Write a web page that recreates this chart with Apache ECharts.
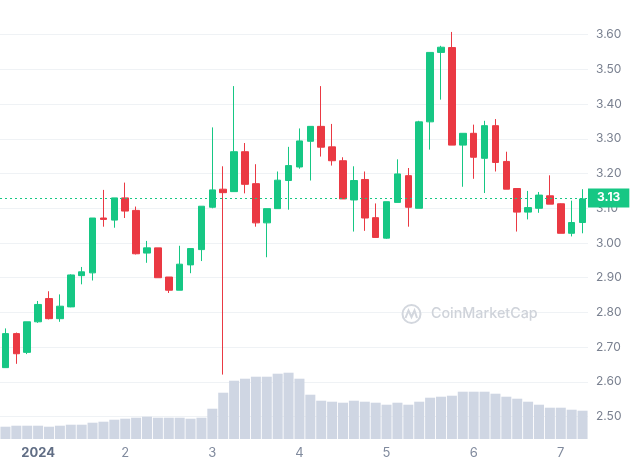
<!DOCTYPE html>
<html>
<head>
<meta charset="utf-8">
<script src="https://cdn.jsdelivr.net/npm/echarts@6/dist/echarts.min.js"></script>
<style>
html,body{margin:0;padding:0;background:#fff;}
#chart{width:630px;height:465px;}
</style>
</head>
<body>
<div id="chart"></div>
<script>
// 3-hour candles, Dec 31 15:00 -> Jan 7 06:00
const categories = [
  'Dec 31 15:00','Dec 31 18:00','Dec 31 21:00',
  'Jan 1 00:00','Jan 1 03:00','Jan 1 06:00','Jan 1 09:00','Jan 1 12:00','Jan 1 15:00','Jan 1 18:00','Jan 1 21:00',
  'Jan 2 00:00','Jan 2 03:00','Jan 2 06:00','Jan 2 09:00','Jan 2 12:00','Jan 2 15:00','Jan 2 18:00','Jan 2 21:00',
  'Jan 3 00:00','Jan 3 03:00','Jan 3 06:00','Jan 3 09:00','Jan 3 12:00','Jan 3 15:00','Jan 3 18:00','Jan 3 21:00',
  'Jan 4 00:00','Jan 4 03:00','Jan 4 06:00','Jan 4 09:00','Jan 4 12:00','Jan 4 15:00','Jan 4 18:00','Jan 4 21:00',
  'Jan 5 00:00','Jan 5 03:00','Jan 5 06:00','Jan 5 09:00','Jan 5 12:00','Jan 5 15:00','Jan 5 18:00','Jan 5 21:00',
  'Jan 6 00:00','Jan 6 03:00','Jan 6 06:00','Jan 6 09:00','Jan 6 12:00','Jan 6 15:00','Jan 6 18:00','Jan 6 21:00',
  'Jan 7 00:00','Jan 7 03:00','Jan 7 06:00'
];
// [open, close, low, high]
const ohlc = [
  [2.641,2.739,2.641,2.754],[2.739,2.681,2.652,2.742],[2.685,2.773,2.680,2.773],
  [2.773,2.823,2.770,2.833],[2.840,2.782,2.780,2.861],[2.782,2.818,2.773,2.852],[2.816,2.908,2.815,2.910],
  [2.906,2.917,2.881,2.931],[2.914,3.072,2.892,3.072],[3.072,3.068,3.047,3.153],[3.066,3.130,3.044,3.130],
  [3.130,3.092,3.072,3.174],[3.094,2.969,2.967,3.105],[2.971,2.986,2.943,3.006],[2.986,2.900,2.900,2.986],
  [2.902,2.864,2.856,2.902],[2.864,2.939,2.864,2.992],[2.937,2.984,2.913,2.984],[2.981,3.106,2.948,3.106],
  [3.103,3.153,3.100,3.333],[3.155,3.145,2.621,3.221],[3.148,3.263,3.148,3.452],[3.263,3.169,3.143,3.288],
  [3.171,3.058,3.047,3.227],[3.058,3.099,2.959,3.099],[3.099,3.181,3.099,3.206],[3.180,3.223,3.096,3.277],
  [3.219,3.294,3.214,3.330],[3.293,3.336,3.180,3.336],[3.336,3.276,3.249,3.452],[3.277,3.237,3.223,3.343],
  [3.237,3.127,3.127,3.247],[3.124,3.180,3.033,3.221],[3.183,3.072,3.035,3.206],[3.073,3.016,3.016,3.114],
  [3.014,3.119,3.012,3.119],[3.117,3.199,3.117,3.241],[3.194,3.103,3.047,3.216],[3.100,3.349,3.100,3.352],
  [3.349,3.549,3.269,3.549],[3.549,3.564,3.413,3.568],[3.563,3.282,3.282,3.608],[3.282,3.316,3.162,3.316],
  [3.316,3.247,3.185,3.341],[3.244,3.338,3.144,3.352],[3.338,3.232,3.206,3.357],[3.235,3.155,3.155,3.263],
  [3.157,3.089,3.033,3.157],[3.089,3.102,3.068,3.150],[3.100,3.138,3.087,3.147],[3.136,3.112,3.112,3.195],
  [3.113,3.028,3.028,3.114],[3.028,3.059,3.019,3.122],[3.059,3.127,3.028,3.155]
];
// relative volume (millions)
const volume = [
  12.3,13.3,13.3,13.3,12.3,13.3,14.3,14.3,16.3,17.3,19.3,20.3,21.3,22.3,21.3,21.3,21.3,20.3,21.3,
  30.3,46.3,58.3,60.3,62.3,62.3,65.3,66.3,60.3,44.3,38.3,37.3,36.3,38.3,37.3,36.3,34.3,36.3,34.3,
  37.3,41.3,42.3,43.3,47.3,47.3,47.3,45.3,42.3,40.3,37.3,34.3,31.3,31.3,29.3,28.3
];
const lastPrice = 3.127;
const tickIndex = [3, 11, 19, 27, 35, 43, 51];
const tickText = ['2024', '2', '3', '4', '5', '6', '7'];

const UP = '#16c784', DOWN = '#ea3943';
const FONT = 'Inter, "Noto Sans", sans-serif';
const gridColors = [];
for (let v = 24; v <= 37; v++) gridColors.push((v === 24 || v === 37) ? 'rgba(0,0,0,0)' : '#eff2f5');

const chart = echarts.init(document.getElementById('chart'), null, {renderer: 'canvas'});
chart.setOption({
  animation: false,
  backgroundColor: '#fff',
  grid: [
    {left: -1, right: 42, top: -10.2, bottom: 13.7},
    {left: -1, right: 42, top: 339, bottom: 26}
  ],
  xAxis: [
    {type: 'category', gridIndex: 0, data: categories, boundaryGap: true,
     axisLine: {show: false}, axisTick: {show: false}, axisLabel: {show: false}, splitLine: {show: false}},
    {type: 'category', gridIndex: 1, data: categories, boundaryGap: true,
     axisLine: {show: false}, axisTick: {show: false}, splitLine: {show: false},
     axisLabel: {
       margin: 8, fontSize: 13, color: '#808a9d', fontFamily: FONT,
       interval: (i) => tickIndex.indexOf(i) >= 0,
       formatter: (v, i) => {
         const k = tickIndex.indexOf(i);
         if (k < 0) return '';
         return k === 0 ? '{y|' + tickText[k] + '}' : tickText[k];
       },
       rich: {y: {fontWeight: 'bold', color: '#616e85', fontSize: 13, fontFamily: FONT}}
     }}
  ],
  yAxis: [
    {type: 'value', gridIndex: 0, position: 'right', min: 2.4, max: 3.7, interval: 0.1, scale: true,
     axisLine: {show: false}, axisTick: {show: false},
     splitLine: {show: true, lineStyle: {color: gridColors, width: 1}},
     axisLabel: {margin: 8, fontSize: 12, color: '#7a8190', fontFamily: FONT,
       formatter: (v) => (v < 2.45 || v > 3.65) ? '' : v.toFixed(2)}},
    {type: 'value', gridIndex: 1, min: 0, max: 100, show: false, splitLine: {show: false}}
  ],
  graphic: [
    {type: 'circle', silent: true, z: 1, shape: {cx: 411.5, cy: 314, r: 9},
     style: {fill: 'none', stroke: '#d3d7de', lineWidth: 2}},
    {type: 'polyline', silent: true, z: 1,
     shape: {points: [[405.5, 318], [408.5, 310.5], [411.5, 317], [414.5, 310.5], [417, 318]]},
     style: {fill: 'none', stroke: '#d3d7de', lineWidth: 2}},
    {type: 'text', silent: true, z: 1, x: 431, y: 314,
     style: {text: 'CoinMarketCap', fill: '#cfd3da', font: '500 14.3px ' + FONT, verticalAlign: 'middle'}}
  ],
  series: [
    {type: 'bar', xAxisIndex: 1, yAxisIndex: 1, data: volume, barCategoryGap: '8%',
     itemStyle: {color: '#cfd6e3'}, silent: true, z: 2},
    {type: 'candlestick', xAxisIndex: 0, yAxisIndex: 0, data: ohlc, barWidth: '64%', z: 3,
     itemStyle: {color: UP, color0: DOWN, borderColor: UP, borderColor0: DOWN, borderWidth: 1},
     markLine: {
       silent: true, symbol: 'none', animation: false,
       lineStyle: {color: UP, type: [2, 3], width: 1},
       label: {show: true, position: 'end', distance: 0, formatter: (p) => p.value.toFixed(2),
         backgroundColor: UP, color: '#fff', fontWeight: 'bold', fontSize: 12, fontFamily: FONT,
         padding: [3, 9, 3, 9], lineHeight: 13},
       data: [{yAxis: lastPrice}]
     }}
  ]
});
</script>
</body>
</html>
